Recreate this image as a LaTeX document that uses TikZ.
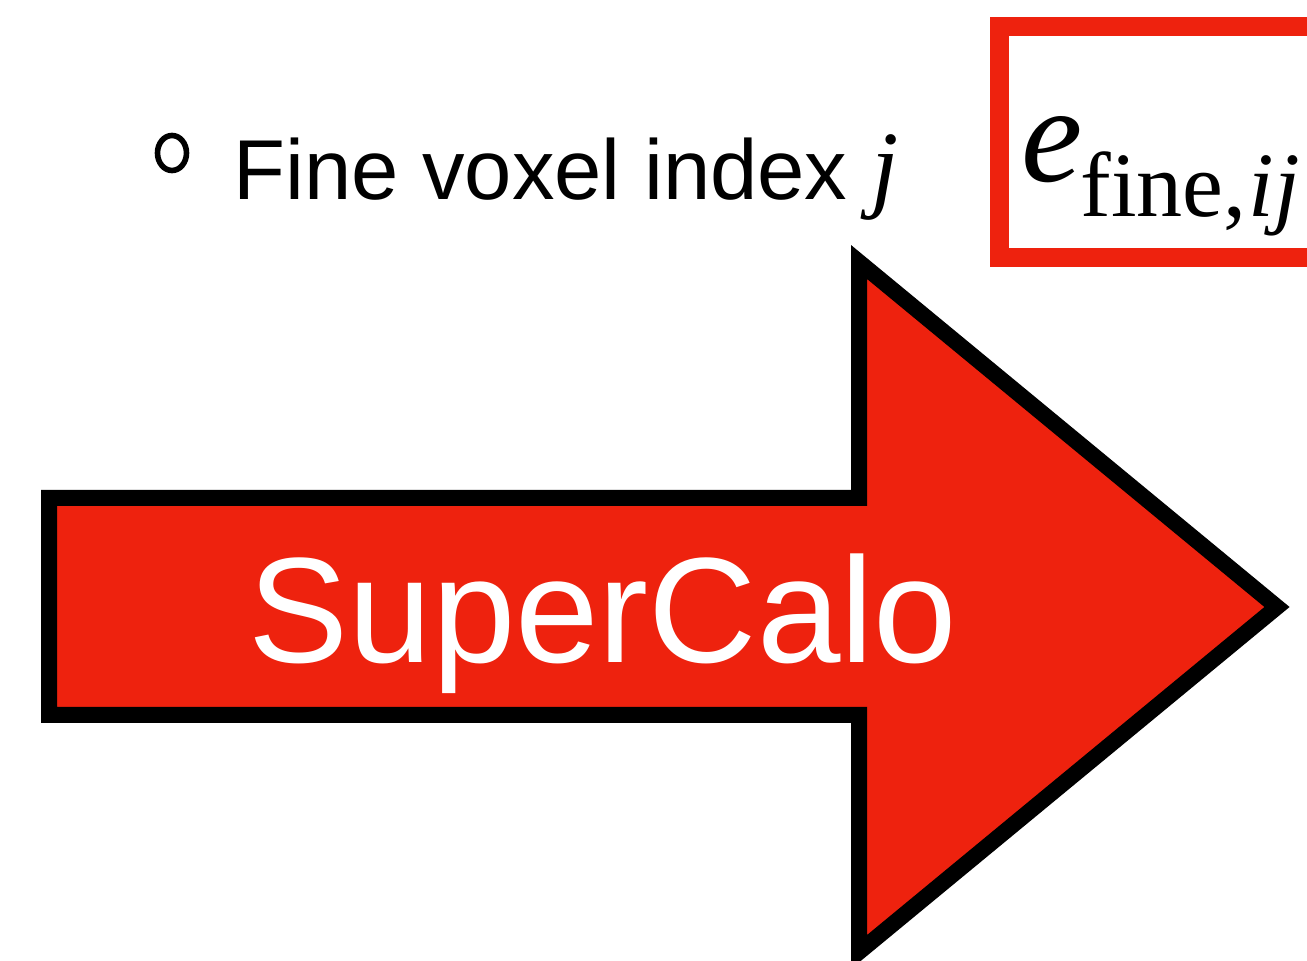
\documentclass[tikz,border=0pt]{standalone}
\usepackage{fontspec}
\setmainfont{Liberation Sans}
\newfontfamily\serifmath{Liberation Serif}
\definecolor{arrowred}{RGB}{238,34,14}
\tikzset{
  bigarrow/.style={draw=black, fill=arrowred, line width=8pt, line join=miter, miter limit=10},
  framebox/.style={draw=arrowred, line width=9.5pt, line join=miter},
  bullettext/.style={anchor=base west, inner sep=0pt, font=\fontsize{42.5pt}{50pt}\selectfont},
  arrowlabel/.style={anchor=base, inner sep=0pt, text=white, font=\fontsize{75pt}{90pt}\selectfont},
  mathlabel/.style={anchor=base west, inner sep=0pt}
}
\begin{document}
\begin{tikzpicture}[x=0.5pt, y=-0.5pt]
\useasboundingbox (0,0) rectangle (1307,961);
\clip (0,0) rectangle (1307,961);
\fill[white] (0,0) rectangle (1307,961);
% bullet
\draw[line width=2.8pt] (172,153) ellipse [x radius=14.5, y radius=17.5];
\node[bullettext] (bullet) at (233,200) {Fine voxel index {\serifmath\itshape\fontsize{49pt}{50pt}\selectfont j}};
% framed formula
\draw[framebox] (999.5,26.5) rectangle (1330,257.5);
\node[mathlabel] (efine) at (1021,182) {\serifmath\fontsize{69pt}{80pt}\selectfont\itshape e\kern-1pt\raisebox{-17.5pt}{\fontsize{46pt}{60pt}\selectfont\upshape fine,\kern1pt\itshape ij}};
% arrow
\draw[bigarrow] (49,498) -- (859,498) -- (859,262) -- (1277,607) -- (859,952) -- (859,715) -- (49,715) -- cycle;
\node[arrowlabel] (label) at (603,663) {SuperCalo};
\end{tikzpicture}
\end{document}
